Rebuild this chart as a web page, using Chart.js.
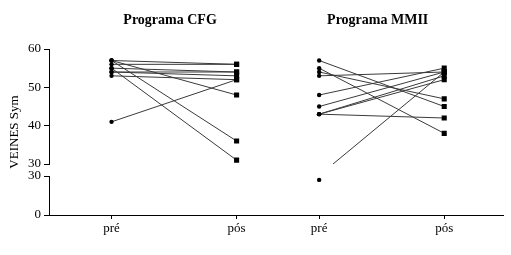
<!DOCTYPE html>
<html><head><meta charset="utf-8">
<script src="https://cdn.jsdelivr.net/npm/chart.js@4"></script>
<style>html,body{margin:0;padding:0;background:#fff;}</style>
</head><body>
<canvas id="c" width="511" height="255"></canvas>
<script>
// ---- data ----
const groups = ['Programa CFG', 'Programa MMII'];
const timepoints = ['pré', 'pós'];
const cfgPre  = [57, 56, 57, 57, 55, 55, 54, 53, 54, 41];
const cfgPos  = [56, 56, 48, 36, 31, 54, 53, 52, 54, 52];
const mmiiPre = [57, 55, 54, 53, 48, 45, 43, 43, 43, 27];
const mmiiPos = [45, 38, 47, 54, 55, 54, 52, 53, 42, 54];
const yTopTicks = [30, 40, 50, 60];
const yBotTicks = [0, 30];
const yTitle = 'VEINES Sym';
const breakValue = 30;

// ---- layout helpers ----
const groupGap = 0.66;
const series = [[cfgPre, cfgPos], [mmiiPre, mmiiPos]];
function xPos(g, t) { return g * (timepoints.length - 1 + groupGap) + t; }
const xTickValues = [];
groups.forEach((_, g) => timepoints.forEach((_, t) => xTickValues.push(xPos(g, t))));

const font = '"Liberation Serif", "Times New Roman", serif';
const lineColor = '#3a3a3a';

const datasets = [];
series.forEach((pair, g) => {
  const pre = pair[0], pos = pair[1];
  pre.forEach((v, i) => {
    const vals = [pre[i], pos[i]];
    datasets.push({
      yAxisID: 'yTop',
      data: vals.map((y, t) => ({x: xPos(g, t), y: y})),
      borderColor: lineColor,
      borderWidth: 1,
      pointStyle: ['circle', 'rect'],
      pointRadius: vals.map((y, t) => y < breakValue ? 0 : (t === 0 ? 2.2 : 3.6)),
      pointBackgroundColor: '#000',
      pointBorderColor: '#000',
      pointBorderWidth: 0,
      showLine: true
    });
    vals.forEach((y, t) => {
      if (y < breakValue) {
        datasets.push({
          yAxisID: 'yBot',
          data: [{x: xPos(g, t), y: y}],
          showLine: false,
          pointStyle: t === 0 ? 'circle' : 'rect',
          pointRadius: t === 0 ? 2.2 : 3.6,
          pointBackgroundColor: '#000',
          pointBorderColor: '#000',
          pointBorderWidth: 0
        });
      }
    });
  });
});

const clipTop = {
  id: 'clipTop',
  beforeDatasetDraw(chart, args) {
    const ds = chart.data.datasets[args.index];
    if (ds.yAxisID === 'yTop') {
      const s = chart.scales.yTop;
      const ctx = chart.ctx;
      ctx.save();
      ctx.beginPath();
      ctx.rect(0, 0, chart.width, s.bottom + 0.5);
      ctx.clip();
    }
  },
  afterDatasetDraw(chart, args) {
    const ds = chart.data.datasets[args.index];
    if (ds.yAxisID === 'yTop') chart.ctx.restore();
  }
};

const titles = {
  id: 'titles',
  afterDraw(chart) {
    const ctx = chart.ctx;
    const xs = chart.scales.x;
    const area = chart.chartArea;
    ctx.save();
    ctx.fillStyle = '#000';
    ctx.textAlign = 'center';
    ctx.textBaseline = 'middle';
    ctx.font = 'bold 14px ' + font;
    groups.forEach((name, g) => {
      const cx = xs.getPixelForValue(xPos(g, (timepoints.length - 1) / 2));
      ctx.fillText(name, cx - 4, 20);
    });
    ctx.font = '13px ' + font;
    ctx.translate(15, (area.top + area.bottom) / 2);
    ctx.rotate(-Math.PI / 2);
    ctx.fillText(yTitle, 0, 0);
    ctx.restore();
  }
};

function yAxis(min, max, ticks, weight) {
  return {
    type: 'linear', position: 'left', stack: 'y', stackWeight: weight,
    min: min, max: max,
    afterBuildTicks: s => { s.ticks = ticks.map(v => ({value: v})); },
    afterFit: s => { s.width = 49; },
    grid: {drawOnChartArea: false, drawTicks: true, tickLength: 5, color: '#000', tickColor: '#000'},
    border: {display: true, color: '#000', width: 1},
    ticks: {color: '#000', font: {family: font, size: 13}, padding: 3}
  };
}

new Chart(document.getElementById('c'), {
  type: 'scatter',
  data: {datasets: datasets},
  options: {
    responsive: false,
    animation: false,
    events: [],
    layout: {padding: {top: 49, right: 8, left: 0, bottom: 0}},
    plugins: {legend: {display: false}, tooltip: {enabled: false}, title: {display: false}},
    scales: {
      x: {
        type: 'linear', min: -0.5, max: 3.13,
        afterBuildTicks: s => { s.ticks = xTickValues.map(v => ({value: v})); },
        afterFit: s => { s.height = 40; },
        grid: {drawOnChartArea: false, drawTicks: true, tickLength: 4, color: '#000', tickColor: '#000'},
        border: {display: true, color: '#000', width: 1},
        ticks: {
          color: '#000', font: {family: font, size: 13}, padding: 2, maxRotation: 0, autoSkip: false,
          callback: (v, i) => timepoints[i % timepoints.length]
        }
      },
      yBot: yAxis(0, 30, yBotTicks, 39),
      yGap: {type: 'linear', position: 'left', stack: 'y', stackWeight: 12, display: false, min: 0, max: 1},
      yTop: yAxis(30, 60, yTopTicks, 115)
    }
  },
  plugins: [clipTop, titles]
});
</script>
</body></html>
